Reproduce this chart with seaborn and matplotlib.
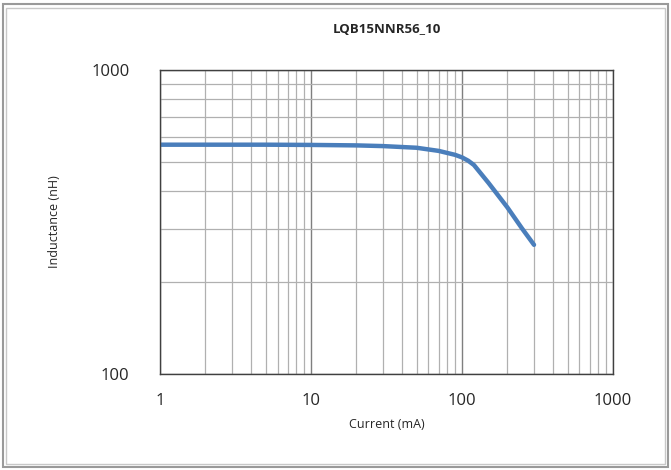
import pandas as pd
import numpy as np
import matplotlib
matplotlib.use('Agg')
import matplotlib.pyplot as plt
import seaborn as sns
from matplotlib.patches import Rectangle
from matplotlib.ticker import FixedLocator, NullFormatter

# Data
current_ma = [1, 2, 5, 10, 20, 30, 50, 70, 90, 100, 110, 120, 150, 200, 250, 300]
inductance_nh = [568, 568, 568, 567, 565, 562, 555, 542, 526, 516, 503, 487, 425, 353, 301, 266]
x_ticks = [1, 10, 100, 1000]
y_ticks = [100, 1000]

df = pd.DataFrame({'Current': current_ma, 'Inductance': inductance_nh})

sns.set_style('white')
plt.rcParams['font.family'] = ['Open Sans', 'DejaVu Sans']

fig = plt.figure(figsize=(6.71, 4.70), dpi=100)
ax = fig.add_axes([0.2385, 0.2043, 0.675, 0.6467])

sns.lineplot(data=df, x='Current', y='Inductance', ax=ax, color='#4a7ebb', linewidth=3.2)

ax.set_xscale('log')
ax.set_yscale('log')
ax.set_xlim(1, 1000)
ax.set_ylim(100, 1000)

ax.xaxis.set_major_locator(FixedLocator(x_ticks))
ax.yaxis.set_major_locator(FixedLocator(y_ticks))
ax.set_xticklabels([str(t) for t in x_ticks], fontsize=12)
ax.set_yticklabels([str(t) for t in y_ticks], fontsize=12)
ax.xaxis.set_minor_formatter(NullFormatter())
ax.yaxis.set_minor_formatter(NullFormatter())
ax.tick_params(which='both', length=0)
ax.tick_params(axis='x', pad=14)
ax.tick_params(axis='y', pad=22)

ax.grid(which='major', color='#7f7f7f', linewidth=1.0)
ax.grid(which='minor', color='#b0b0b0', linewidth=0.9)
ax.set_axisbelow(True)
for s in ax.spines.values():
    s.set_color('#404040')
    s.set_linewidth(1.0)

ax.set_xlabel('Current (mA)', fontsize=9, labelpad=6)
ax.set_ylabel('Inductance (nH)', fontsize=9, labelpad=22)
ax.set_title('LQB15NNR56_10', fontsize=9.5, fontweight='bold', pad=27)

# outer chart border
fig.patches.append(Rectangle((0.004, 0.006), 0.992, 0.985, transform=fig.transFigure,
                             fill=False, edgecolor='#9a9a9a', linewidth=1.5))
fig.patches.append(Rectangle((0.009, 0.013), 0.982, 0.971, transform=fig.transFigure,
                             fill=False, edgecolor='#c8c8c8', linewidth=1.0))

fig.savefig('out.png', dpi=100)
